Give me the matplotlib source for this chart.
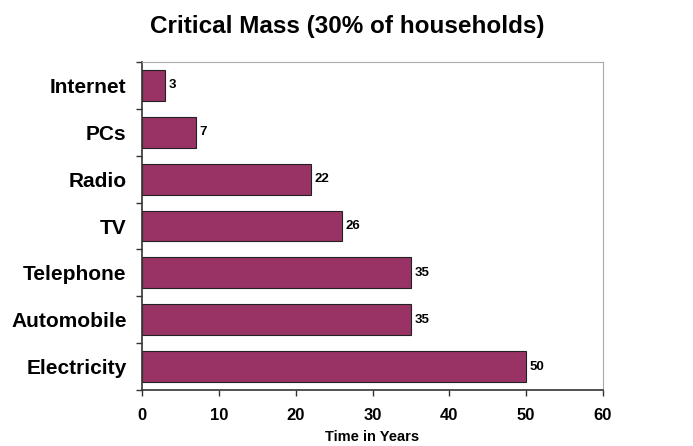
import matplotlib.pyplot as plt
import numpy as np

plt.rcParams['font.family'] = ['Liberation Sans', 'DejaVu Sans']
plt.rcParams['font.weight'] = 'bold'

categories = ["Electricity", "Automobile", "Telephone", "TV", "Radio", "PCs", "Internet"]
years = [50, 35, 35, 26, 22, 7, 3]

fig = plt.figure(figsize=(6.93, 4.46), dpi=100)
ax = fig.add_axes([142/693, 1-390/446, 461/693, 328/446])

y = np.arange(len(categories))
ax.barh(y, years, height=0.66, color="#993366", edgecolor="#222222", linewidth=0.8)
for yi, v in zip(y, years):
    ax.text(v + 0.5, yi, str(v), va="center", ha="left", fontsize=9.5, fontweight="bold")

ax.set_xlim(0, 60)
ax.set_ylim(-0.5, len(categories) - 0.5)
ax.set_xticks(range(0, 61, 10))
ax.set_yticks(y)
ax.set_yticklabels(categories, fontsize=15, fontweight="bold")
ax.set_yticks(np.arange(-0.5, len(categories), 1), minor=True)
ax.tick_params(axis="y", which="major", length=0, pad=11)
ax.tick_params(axis="y", which="minor", length=4, width=1, color="#333333")
ax.tick_params(axis="x", length=4, width=1, color="#333333", labelsize=12, pad=9)
for lab in ax.get_xticklabels():
    lab.set_fontweight("bold")

ax.spines["top"].set_color("#aaaaaa")
ax.spines["right"].set_color("#aaaaaa")
ax.spines["left"].set_color("#333333")
ax.spines["bottom"].set_color("#333333")
ax.spines["left"].set_linewidth(1.2)
ax.spines["bottom"].set_linewidth(1.2)

fig.text(372/693, 2/446, "Time in Years", ha="center", va="bottom",
         fontsize=10.5, fontweight="bold")
fig.text(347/693, 1 - 27/446, "Critical Mass (30% of households)", ha="center", va="center",
         fontsize=17.5, fontweight="bold")

fig.savefig("out.png", dpi=100)
